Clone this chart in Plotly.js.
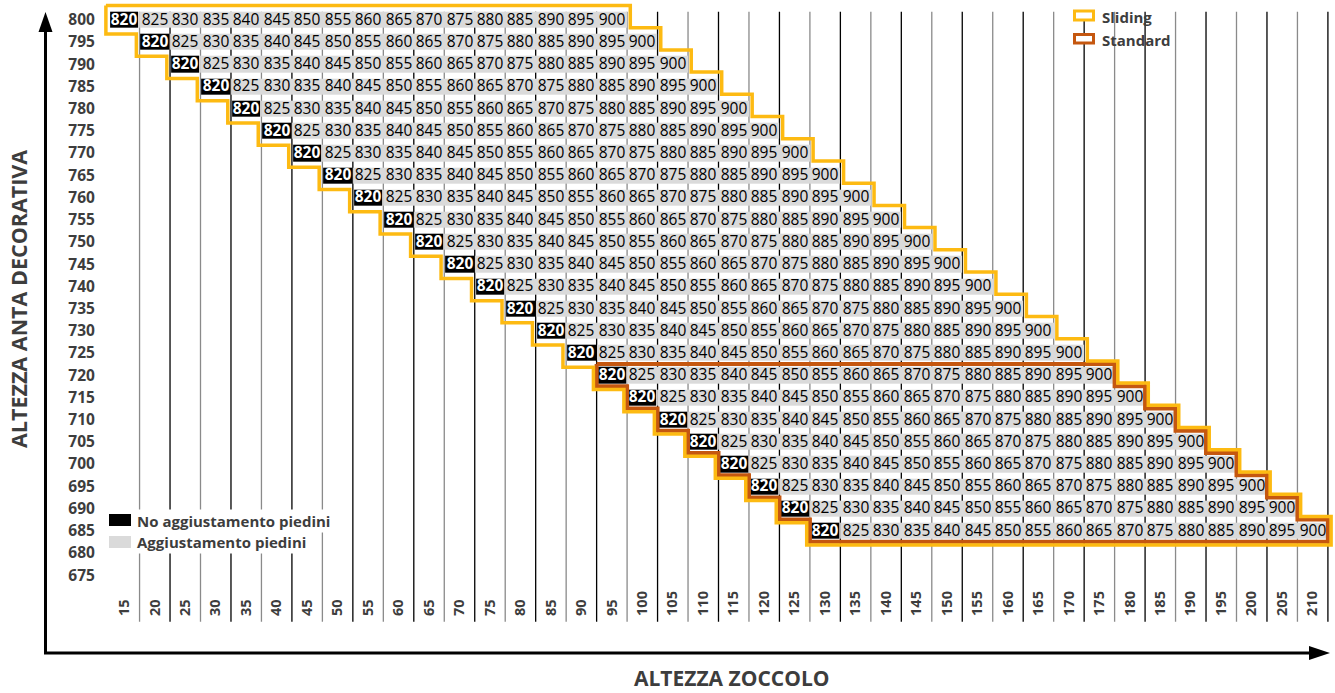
<!DOCTYPE html>
<html><head><meta charset="utf-8">
<script src="https://cdn.plot.ly/plotly-3.0.1.min.js"></script>
<style>html,body{margin:0;padding:0;background:#fff}#chart{width:1335px;height:693px}</style>
</head><body><div id="chart"></div>
<script>
// ---- data ----
const zoccolo = [15,20,25,30,35,40,45,50,55,60,65,70,75,80,85,90,95,100,105,110,115,120,125,130,135,140,145,150,155,160,165,170,175,180,185,190,195,200,205,210];
const antaRows = [800,795,790,785,780,775,770,765,760,755,750,745,740,735,730,725,720,715,710,705,700,695,690,685,680,675];
// zoccolo column where each row's sequence begins (null = empty row)
const rowStartZoccolo = [15,20,25,30,35,40,45,50,55,60,65,70,75,80,85,90,95,100,105,110,115,120,125,130,null,null];
// values written in each row, left to right
const cellValues = [820,825,830,835,840,845,850,855,860,865,870,875,880,885,890,895,900];
const standardRows = [720,715,710,705,700,695,690,685];
const legendSliding = 'Sliding', legendStandard = 'Standard';
const legendNoAdj = 'No aggiustamento piedini', legendAdj = 'Aggiustamento piedini';

// ---- layout geometry ----
const W = 1335, H = 693;
const M = {l:103, r:1, t:2, b:69};
const XR = [11.5, 213.5], YR = [664, 804];
const PW = W - M.l - M.r, PH = H - M.t - M.b;
const xp = px => (px - M.l) / PW;
const yp = py => (H - M.b - py) / PH;
const uPerPxX = (XR[1]-XR[0]) / PW, uPerPxY = (YR[1]-YR[0]) / PH;

const YELLOW = '#FDBA12', BROWN = '#C5570F', GREY = '#DADADA', TXT = '#3d3d3d';
const FONT = 'Open Sans, Noto Sans, sans-serif';

// ---- heatmap matrices ----
const zBlack = [], tBlack = [], zGrey = [], tGrey = [];
antaRows.forEach((r, i) => {
  const rb = [], rtb = [], rg = [], rtg = [];
  zoccolo.forEach(c => {
    const s = rowStartZoccolo[i];
    let v = null, k = -1;
    if (s !== null) { k = (c - s) / 5; if (k >= 0 && k < cellValues.length) v = cellValues[k]; }
    if (v !== null && k === 0) { rb.push(1); rtb.push(String(v)); rg.push(null); rtg.push(''); }
    else if (v !== null) { rg.push(1); rtg.push(String(v)); rb.push(null); rtb.push(''); }
    else { rb.push(null); rtb.push(''); rg.push(null); rtg.push(''); }
  });
  zBlack.push(rb); tBlack.push(rtb); zGrey.push(rg); tGrey.push(rtg);
});

// ---- staircase outlines ----
function outline(rowVals, offPx) {
  const idx = rowVals.map(v => antaRows.indexOf(v)).filter(i => rowStartZoccolo[i] !== null);
  const dx = offPx * uPerPxX, dy = offPx * uPerPxY, h = 2.5;
  const s = i => rowStartZoccolo[i], e = i => rowStartZoccolo[i] + 5 * (cellValues.length - 1);
  const top = i => antaRows[i] + h, bot = i => antaRows[i] - h;
  const xs = [], ys = [];
  xs.push(s(idx[0]) - h - dx); ys.push(top(idx[0]) + dy);
  idx.forEach((i, k) => {
    const last = k === idx.length - 1;
    xs.push(e(i) + h + dx); ys.push(top(i) + dy);
    xs.push(e(i) + h + dx); ys.push(bot(i) + (last ? -dy : dy));
  });
  for (let k = idx.length - 1; k >= 0; k--) {
    const i = idx[k], first = k === 0;
    xs.push(s(i) - h - dx); ys.push(bot(i) - dy);
    xs.push(s(i) - h - dx); ys.push(top(i) + (first ? dy : -dy));
  }
  xs.push(xs[0]); ys.push(ys[0]);
  return {xs, ys};
}
const slidingRows = antaRows.filter((r, i) => rowStartZoccolo[i] !== null);
const oSliding = outline(slidingRows, 3.2);
const oStandard = outline(standardRows, 0);

const traces = [
  {type:'heatmap', x:zoccolo, y:antaRows, z:zGrey, text:tGrey, texttemplate:'%{text}',
   textfont:{family:FONT, size:15.5, color:'#000'}, colorscale:[[0,GREY],[1,GREY]], showscale:false,
   xgap:0, ygap:6, hoverinfo:'skip'},
  {type:'heatmap', x:zoccolo, y:antaRows, z:zBlack, text:tBlack, texttemplate:'%{text}',
   textfont:{family:FONT, size:15.5, color:'#fff', weight:'bold'}, colorscale:[[0,'#000'],[1,'#000']], showscale:false,
   xgap:2, ygap:6, hoverinfo:'skip'},
  {type:'scatter', mode:'lines', name:legendStandard, x:oStandard.xs, y:oStandard.ys,
   line:{color:BROWN, width:4}, showlegend:false, hoverinfo:'skip'},
  {type:'scatter', mode:'lines', name:legendSliding, x:oSliding.xs, y:oSliding.ys,
   line:{color:YELLOW, width:3.5}, showlegend:false, hoverinfo:'skip'}
];

// ---- shapes ----
const shapes = [];
zoccolo.forEach((c, k) => {
  shapes.push({type:'line', layer:'below', xref:'x', yref:'y', x0:c+2.5, x1:c+2.5, y0:664.5, y1:801.8,
    line:{color: k % 2 === 0 ? '#8a8a8a' : '#000', width:1.3}});
});
// white backing of top-right legend
shapes.push({type:'rect', layer:'below', xref:'paper', yref:'paper', x0:xp(1068), x1:xp(1178), y0:yp(48), y1:yp(2),
  fillcolor:'#fff', line:{width:0}});
// legend boxes
shapes.push({type:'rect', xref:'paper', yref:'paper', x0:xp(1074.5), x1:xp(1093.5), y0:yp(20), y1:yp(11),
  fillcolor:'#fff', line:{color:YELLOW, width:3}});
shapes.push({type:'rect', xref:'paper', yref:'paper', x0:xp(1074.5), x1:xp(1093.5), y0:yp(43), y1:yp(34.5),
  fillcolor:'#fff', line:{color:BROWN, width:3}});
shapes.push({type:'rect', xref:'paper', yref:'paper', x0:xp(109), x1:xp(131), y0:yp(526), y1:yp(514),
  fillcolor:'#000', line:{width:0}});
shapes.push({type:'rect', xref:'paper', yref:'paper', x0:xp(109), x1:xp(131), y0:yp(548), y1:yp(536),
  fillcolor:GREY, line:{width:0}});
// axis arrows
shapes.push({type:'line', xref:'paper', yref:'paper', x0:xp(45.5), x1:xp(45.5), y0:yp(654), y1:yp(28), line:{color:'#000', width:3}});
shapes.push({type:'path', xref:'paper', yref:'paper', fillcolor:'#000', line:{width:0},
  path:`M${xp(45.5)},${yp(12)} L${xp(38.5)},${yp(32)} L${xp(52.5)},${yp(32)} Z`});
shapes.push({type:'line', xref:'paper', yref:'paper', x0:xp(44), x1:xp(1312), y0:yp(653), y1:yp(653), line:{color:'#000', width:3}});
shapes.push({type:'path', xref:'paper', yref:'paper', fillcolor:'#000', line:{width:0},
  path:`M${xp(1330)},${yp(653)} L${xp(1309)},${yp(646)} L${xp(1309)},${yp(660)} Z`});

const annFont = (s) => ({family:FONT, size:s, color:TXT, weight:'bold'});
const annotations = [
  {xref:'paper', yref:'paper', x:xp(1100), y:yp(17), xanchor:'left', yanchor:'middle', text:legendSliding, showarrow:false, font:annFont(15)},
  {xref:'paper', yref:'paper', x:xp(1100), y:yp(40), xanchor:'left', yanchor:'middle', text:legendStandard, showarrow:false, font:annFont(15)},
  {xref:'paper', yref:'paper', x:xp(135), y:yp(521), xanchor:'left', yanchor:'middle', text:legendNoAdj, showarrow:false, font:annFont(15), bgcolor:'#fff'},
  {xref:'paper', yref:'paper', x:xp(135), y:yp(542), xanchor:'left', yanchor:'middle', text:legendAdj, showarrow:false, font:annFont(15), bgcolor:'#fff'},
  {xref:'paper', yref:'paper', x:xp(731), y:yp(678), xanchor:'center', yanchor:'middle', text:'ALTEZZA ZOCCOLO', showarrow:false, font:annFont(21)},
  {xref:'paper', yref:'paper', x:xp(18), y:yp(299), xanchor:'center', yanchor:'middle', text:'ALTEZZA ANTA DECORATIVA', textangle:-90, showarrow:false, font:annFont(21.5)}
];

const layout = {
  width:W, height:H, margin:M, paper_bgcolor:'#fff', plot_bgcolor:'#fff', showlegend:false, hovermode:false,
  xaxis:{range:XR, tickvals:zoccolo, ticktext:zoccolo.map(String), tickangle:-90, ticklabelposition:'inside',
    showgrid:false, zeroline:false, showline:false, ticks:'', tickfont:{family:FONT, size:14.5, color:TXT, weight:'bold'}, fixedrange:true},
  yaxis:{range:YR, tickvals:antaRows, ticktext:antaRows.map(String), showgrid:false, zeroline:false, showline:false,
    ticks:'outside', ticklen:4, tickcolor:'rgba(0,0,0,0)', tickfont:{family:FONT, size:15.5, color:TXT, weight:'bold'}, fixedrange:true},
  shapes, annotations
};
Plotly.newPlot('chart', traces, layout, {staticPlot:true, displayModeBar:false});
</script></body></html>
